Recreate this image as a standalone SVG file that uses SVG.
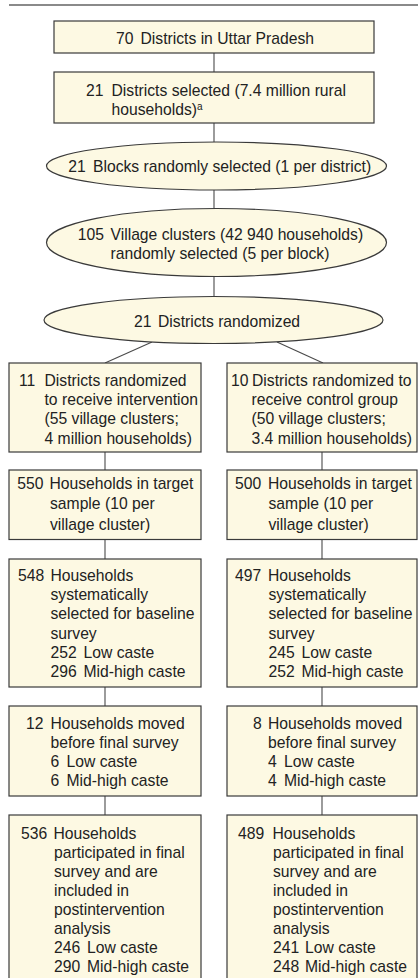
<svg xmlns="http://www.w3.org/2000/svg" width="418" height="978" viewBox="0 0 418 978">
<style>
.box{fill:#fdf9e3;stroke:#3a3a3a;stroke-width:1.2}
.conn{stroke:#4a4a4a;stroke-width:1.1;fill:none}
text{font-family:"Liberation Sans",Arial,sans-serif;font-size:15.7px;fill:#222222}
.sup{font-size:10px}
</style>
<rect width="418" height="978" fill="#ffffff"/>
<line x1="9" y1="5" x2="418" y2="5" stroke="#8a8a8a" stroke-width="2"/>
<g id="connectors">
<line class="conn" x1="214" y1="53" x2="214" y2="72"/>
<line class="conn" x1="214" y1="123" x2="214" y2="142"/>
<line class="conn" x1="214" y1="190" x2="214" y2="208.5"/>
<line class="conn" x1="214" y1="276.5" x2="214" y2="296.5"/>
<line class="conn" x1="152" y1="342" x2="105" y2="363"/>
<line class="conn" x1="277" y1="342" x2="323" y2="363"/>
<line class="conn" x1="105" y1="452" x2="105" y2="470"/>
<line class="conn" x1="322" y1="452" x2="322" y2="470"/>
<line class="conn" x1="105" y1="539.5" x2="105" y2="559"/>
<line class="conn" x1="322" y1="539.5" x2="322" y2="559"/>
<line class="conn" x1="105" y1="687" x2="105" y2="706"/>
<line class="conn" x1="322" y1="687" x2="322" y2="706"/>
<line class="conn" x1="105" y1="796" x2="105" y2="815"/>
<line class="conn" x1="322" y1="796" x2="322" y2="815"/>
</g>
<g id="n1">
<rect class="box" x="54" y="21" width="320" height="32"/>
<text x="116" y="44">70</text><text x="140.5" y="44">Districts in Uttar Pradesh</text>
</g>
<g id="n2">
<rect class="box" x="54" y="72" width="320" height="51"/>
<text x="86" y="96">21</text><text x="111.5" y="96">Districts selected (7.4 million rural</text>
<text x="111.5" y="114.5">households)<tspan class="sup" dy="-5">a</tspan></text>
</g>
<g id="n3">
<ellipse class="box" cx="216.5" cy="166" rx="170" ry="24"/>
<text x="68.3" y="172">21</text><text x="93" y="172">Blocks randomly selected (1 per district)</text>
</g>
<g id="n4">
<ellipse class="box" cx="216.5" cy="242.5" rx="170" ry="34"/>
<text x="77.7" y="240">105</text><text x="110.5" y="240">Village clusters (42 940 households)</text>
<text x="110.5" y="259">randomly selected (5 per block)</text>
</g>
<g id="n5">
<ellipse class="box" cx="213.5" cy="320" rx="169.5" ry="23.5"/>
<text x="134" y="326.5">21</text><text x="158" y="326.5">Districts randomized</text>
</g>
<g id="n6">
<rect class="box" x="9" y="363" width="192" height="89"/>
<text x="19" y="385.7">11</text><text x="44.5" y="385.7">Districts randomized</text>
<text x="44.5" y="405">to receive intervention</text>
<text x="44.5" y="424.3">(55 village clusters;</text>
<text x="44.5" y="443.5">4 million households)</text>
</g>
<g id="n7">
<rect class="box" x="227" y="363" width="190" height="89"/>
<text x="231" y="385.7">10</text><text x="252" y="385.7">Districts randomized to</text>
<text x="251.5" y="405">receive control group</text>
<text x="251.5" y="424.3">(50 village clusters;</text>
<text x="251.5" y="443.5">3.4 million households)</text>
</g>
<g id="n8">
<rect class="box" x="9" y="470" width="192" height="69.5"/>
<text x="17.3" y="489">550</text><text x="49.5" y="489">Households in target</text>
<text x="50" y="509">sample (10 per</text>
<text x="50" y="529.5">village cluster)</text>
</g>
<g id="n9">
<rect class="box" x="227" y="470" width="190" height="69.5"/>
<text x="235" y="489">500</text><text x="268" y="489">Households in target</text>
<text x="268.5" y="509">sample (10 per</text>
<text x="268.5" y="529.5">village cluster)</text>
</g>
<g id="n10">
<rect class="box" x="9" y="559" width="192" height="128"/>
<text x="18" y="581">548</text><text x="50.5" y="581">Households</text>
<text x="50.5" y="600.3">systematically</text>
<text x="50.5" y="619.4">selected for baseline</text>
<text x="50.5" y="638.5">survey</text>
<text x="50.5" y="657.6">252</text><text x="83.5" y="657.6">Low caste</text>
<text x="50.5" y="676.7">296</text><text x="83.5" y="676.7">Mid-high caste</text>
</g>
<g id="n11">
<rect class="box" x="227" y="559" width="190" height="128"/>
<text x="235" y="581">497</text><text x="268" y="581">Households</text>
<text x="268.5" y="600.3">systematically</text>
<text x="268.5" y="619.4">selected for baseline</text>
<text x="268.5" y="638.5">survey</text>
<text x="268.5" y="657.6">245</text><text x="301.5" y="657.6">Low caste</text>
<text x="268.5" y="676.7">252</text><text x="301.5" y="676.7">Mid-high caste</text>
</g>
<g id="n12">
<rect class="box" x="9" y="706" width="192" height="90"/>
<text x="26" y="729">12</text><text x="50.5" y="729">Households moved</text>
<text x="50.5" y="748">before final survey</text>
<text x="50.5" y="767">6</text><text x="66.5" y="767">Low caste</text>
<text x="50.5" y="786">6</text><text x="66.5" y="786">Mid-high caste</text>
</g>
<g id="n13">
<rect class="box" x="227" y="706" width="190" height="90"/>
<text x="253" y="729">8</text><text x="268" y="729">Households moved</text>
<text x="268" y="748">before final survey</text>
<text x="268" y="767">4</text><text x="284" y="767">Low caste</text>
<text x="268" y="786">4</text><text x="284" y="786">Mid-high caste</text>
</g>
<g id="n14">
<rect class="box" x="9" y="815" width="192" height="175"/>
<text x="21" y="839">536</text><text x="53.5" y="839">Households</text>
<text x="54" y="858">participated in final</text>
<text x="54" y="877">survey and are</text>
<text x="54" y="896">included in</text>
<text x="54" y="915">postintervention</text>
<text x="54" y="934">analysis</text>
<text x="54" y="953">246</text><text x="87" y="953">Low caste</text>
<text x="54" y="972">290</text><text x="87" y="972">Mid-high caste</text>
</g>
<g id="n15">
<rect class="box" x="227" y="815" width="190" height="175"/>
<text x="238" y="839">489</text><text x="272.5" y="839">Households</text>
<text x="273" y="858">participated in final</text>
<text x="273" y="877">survey and are</text>
<text x="273" y="896">included in</text>
<text x="273" y="915">postintervention</text>
<text x="273" y="934">analysis</text>
<text x="273" y="953">241</text><text x="305" y="953">Low caste</text>
<text x="273" y="972">248</text><text x="305" y="972">Mid-high caste</text>
</g>
</svg>
